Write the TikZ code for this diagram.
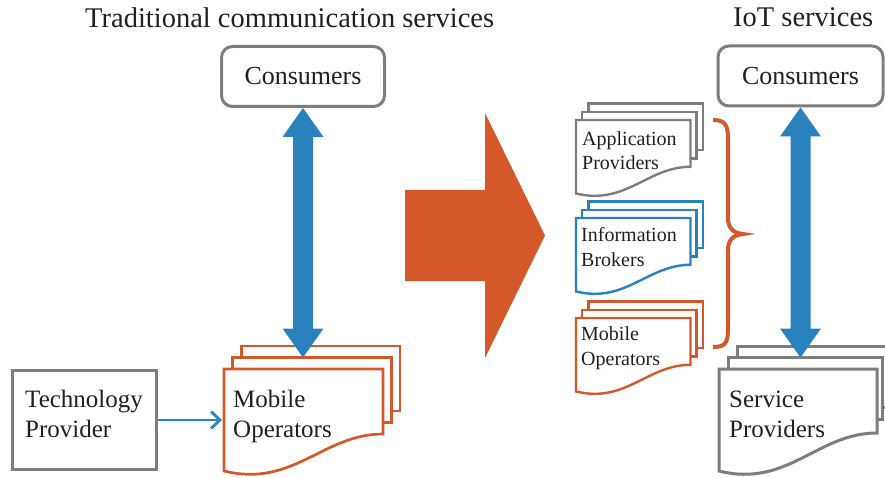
\documentclass[tikz,border=0pt]{standalone}
\usepackage{fontspec}
\setmainfont{Liberation Serif}
\usetikzlibrary{arrows.meta}
\definecolor{cblue}{RGB}{41,130,189}
\definecolor{corange}{RGB}{212,88,42}
\definecolor{cgray}{RGB}{125,125,125}
\definecolor{ctext}{RGB}{35,31,32}
\tikzset{
  mdoc/.pic={
    \draw (0,0) -- (159,0) -- (159,65) .. controls (99,65) and (69,119) .. (0,102) -- cycle;
    \draw (8.5,0) -- (8.5,-11.5) -- (167.5,-11.5) -- (167.5,53.5) -- (159,53.5);
    \draw (17.5,-11.5) -- (17.5,-23) -- (176,-23) -- (176,42) -- (167.5,42);
    \coordinate (-top2) at (80,-11.5);
    \coordinate (-w) at (0,51);
  },
  mdocwide/.pic={
    \draw (0,0) -- (158,0) -- (158,64) .. controls (98,64) and (69,119) .. (0,102) -- cycle;
    \draw (9,0) -- (9,-11.5) -- (163,-11.5) -- (163,50) -- (158,50);
    \draw (18.5,-11.5) -- (18.5,-23) -- (172,-23) -- (172,38) -- (163,38);
    \coordinate (-top2) at (80,-11.5);
    \coordinate (-w) at (0,51);
  },
  bigtxt/.style={font=\fontsize{25}{30}\selectfont, text=ctext, inner sep=0pt, align=left, anchor=base west},
  smalltxt/.style={font=\fontsize{20}{24.5}\selectfont, text=ctext, inner sep=0pt, align=left, anchor=base west},
  titletxt/.style={font=\fontsize{28.5}{32}\selectfont, text=ctext, inner sep=0pt, anchor=base west},
  consbox/.style={draw=cgray, line width=3pt, rounded corners=11pt, minimum height=60pt, font=\fontsize{26}{30}\selectfont, text=ctext},
  plainbox/.style={draw=cgray, line width=3pt, minimum width=144pt, minimum height=99pt},
  bigdoc/.style={line width=2.7pt},
  smalldoc/.style={line width=2.4pt, scale=0.72},
}
\newcommand\dblarrow[2]{%
  \fill[cblue] (#1) -- ([xshift=20.5pt,yshift=-29pt]#1) -- ([xshift=10pt,yshift=-29pt]#1)
    -- ([xshift=10pt,yshift=29pt]#2) -- ([xshift=20.5pt,yshift=29pt]#2) -- (#2)
    -- ([xshift=-20.5pt,yshift=29pt]#2) -- ([xshift=-10pt,yshift=29pt]#2)
    -- ([xshift=-10pt,yshift=-29pt]#1) -- ([xshift=-20.5pt,yshift=-29pt]#1) -- cycle;}
\begin{document}
\begin{tikzpicture}[x=1pt,y=-1pt]
\clip (0,0) rectangle (885,478);
\fill[white] (0,0) rectangle (885,478);
% titles
\node[titletxt] (t1) at (85,28) {Traditional communication services};
\node[titletxt] (t2) at (733,27) {IoT services};
% left side
\node[consbox, minimum width=163pt] (c1) at (303,76.5) {Consumers};
\node[plainbox] (tp) at (84.5,420) {};
\node[bigtxt] (tpt) at (25,437) {Technology\\Provider};
\pic[corange, bigdoc] (mo) at (224,369) {mdoc};
\node[bigtxt] (mot) at (233,437) {Mobile\\Operators};
\draw[cblue, line width=2.7pt, -{Straight Barb[length=9pt,width=17pt]}, shorten >=2pt] (tp.east) -- (mo-w);
\dblarrow{c1.south}{c1.south |- mo-top2}
% big arrow
\fill[corange] (405,190) -- (485,190) -- (485,113) -- (545,235.5) -- (485,358) -- (485,281) -- (405,281) -- cycle;
% right side small docs
\pic[cgray, smalldoc] (ap) at (576,120) {mdoc};
\node[smalltxt] (apt) at (582,170) {Application\\Providers};
\pic[cblue, smalldoc] (ib) at (576,218) {mdoc};
\node[smalltxt] (ibt) at (581,266) {Information\\Brokers};
\pic[corange, smalldoc] (mo2) at (576,318) {mdoc};
\node[smalltxt] (mo2t) at (581,365) {Mobile\\Operators};
% brace
\draw[corange, line width=4pt] (713,120) .. controls (724,120) and (728,124) .. (728,138) -- (728,218)
  .. controls (728,228) and (733,233) .. (743,234) .. controls (733,235) and (728,240) .. (728,250)
  -- (728,330) .. controls (728,344) and (724,347) .. (713,347);
% right consumers and service providers
\node[consbox, minimum width=165pt] (c2) at (800.5,76) {Consumers};
\pic[cgray, line width=3pt] (sp) at (719,369) {mdocwide};
\node[bigtxt] (spt) at (729,437) {Service\\Providers};
\dblarrow{c2.south}{c2.south |- sp-top2}
\end{tikzpicture}
\end{document}
